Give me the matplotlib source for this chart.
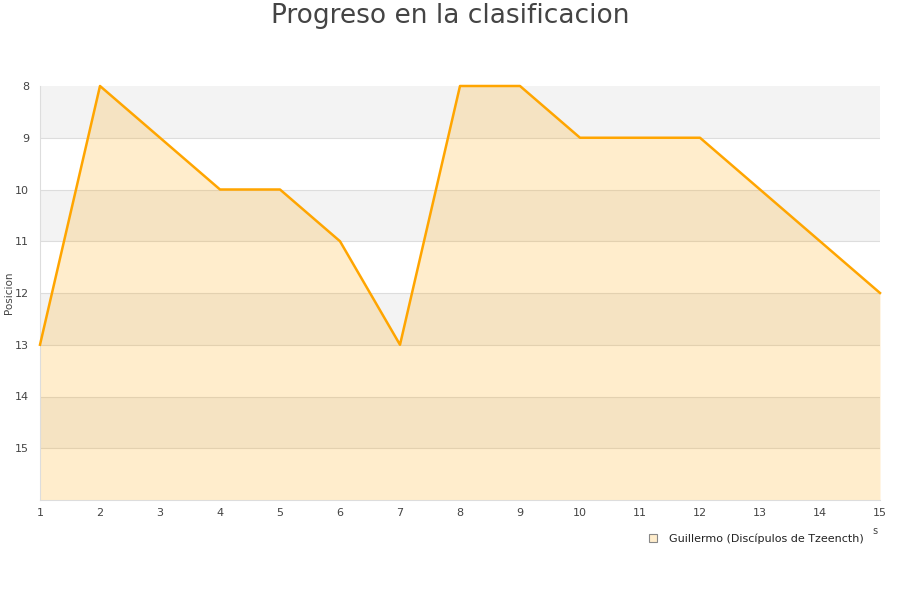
import matplotlib
matplotlib.use("Agg")
import matplotlib.pyplot as plt
from matplotlib.lines import Line2D

jornadas = list(range(1, 16))
posiciones = [13, 8, 9, 10, 10, 11, 13, 8, 8, 9, 9, 9, 10, 11, 12]
yticks = [8, 9, 10, 11, 12, 13, 14, 15]
serie = "Guillermo (Discípulos de Tzeencth)"
titulo = "Progreso en la clasificacion"

fig = plt.figure(figsize=(9, 6), dpi=100)
ax = fig.add_axes([40/900, 100/600, 840/900, 414/600])

ymin, ymax = 8, 16
ax.set_xlim(1, 15)
ax.set_ylim(ymax, ymin)

# alternating bands
for i, y0 in enumerate(range(ymin, ymax)):
    if i % 2 == 0:
        ax.axhspan(y0, y0 + 1, color="#f3f3f3", zorder=0, lw=0)
for y in range(ymin + 1, ymax):
    ax.axhline(y, color="#dddddd", lw=0.8, zorder=1)

ax.fill_between(jornadas, posiciones, ymax, color="#ffa500", alpha=0.2, lw=0, zorder=2)
ax.plot(jornadas, posiciones, color="#ffa500", lw=1.8, zorder=3, clip_on=False)

ax.set_xticks(jornadas)
ax.set_yticks(yticks)
ax.tick_params(axis="both", length=0, labelsize=8, colors="#444444", pad=6)
ax.tick_params(axis="y", pad=8)
for s in ["top", "right"]:
    ax.spines[s].set_visible(False)
for s in ["left", "bottom"]:
    ax.spines[s].set_color("#dddddd")

fig.text(9/900, 1 - 293/600, "Posicion", rotation=90, ha="center", va="center",
         fontsize=7.5, color="#444444")
fig.text(0.5, 1 - 16/600, titulo, ha="center", va="center", fontsize=19, color="#444444")
fig.text(875/900, 1 - 531/600, "s", ha="center", va="center", fontsize=7, color="#444444")

handle = Line2D([], [], marker="s", linestyle="none", markersize=6,
                markerfacecolor="#ffedcc", markeredgecolor="#888888", markeredgewidth=0.8)
leg = fig.legend([handle], [serie], loc="center right", bbox_to_anchor=(868/900, 1 - 539/600),
                 frameon=False, fontsize=8, handletextpad=0.4, borderaxespad=0)
for t in leg.get_texts():
    t.set_color("#222222")

fig.savefig("out.png", dpi=100)
